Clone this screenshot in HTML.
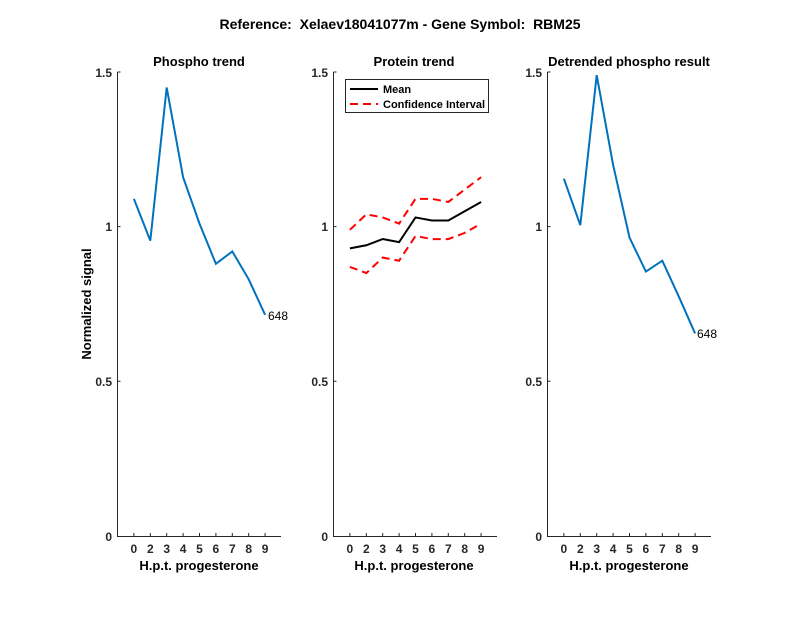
<!DOCTYPE html>
<html><head><style>body{margin:0;background:#fff}svg{display:block}text{font-family:"Liberation Sans",Arial,sans-serif}</style></head>
<body>
<svg width="800" height="618" viewBox="0 0 800 618" xmlns="http://www.w3.org/2000/svg">
<text x="400" y="29" font-size="14" font-weight="bold" text-anchor="middle" xml:space="preserve">Reference:  Xelaev18041077m - Gene Symbol:  RBM25</text>
<g font-size="13" font-weight="bold" text-anchor="middle">
<text x="199" y="66">Phospho trend</text>
<text x="414" y="66">Protein trend</text>
<text x="629" y="66">Detrended phospho result</text>
<text x="199" y="570">H.p.t. progesterone</text>
<text x="414" y="570">H.p.t. progesterone</text>
<text x="629" y="570">H.p.t. progesterone</text>
<text transform="translate(91,304) rotate(-90)">Normalized signal</text>
</g>
<g stroke="#262626" stroke-width="1" fill="none">
<path d="M117.5,72V536.5H281M117.5,226.6h3M117.5,381.3h3M117.5,72h3"/>
<path d="M333.5,72V536.5H497M333.5,226.6h3M333.5,381.3h3M333.5,72h3"/>
<path d="M547.5,72V536.5H711M547.5,226.6h3M547.5,381.3h3M547.5,72h3"/>
</g>
<g stroke="#262626" stroke-width="1">
<path d="M133.9,536v-3M150.3,536v-3M166.7,536v-3M183.1,536v-3M199.5,536v-3M215.9,536v-3M232.3,536v-3M248.7,536v-3M265.1,536v-3"/>
<path d="M349.9,536v-3M366.3,536v-3M382.7,536v-3M399.1,536v-3M415.5,536v-3M431.9,536v-3M448.3,536v-3M464.7,536v-3M481.1,536v-3"/>
<path d="M563.9,536v-3M580.3,536v-3M596.7,536v-3M613.1,536v-3M629.5,536v-3M645.9,536v-3M662.3,536v-3M678.7,536v-3M695.1,536v-3"/>
</g>
<g font-size="12" font-weight="bold" fill="#262626" text-anchor="end">
<text x="112" y="77">1.5</text><text x="112" y="231">1</text><text x="112" y="386">0.5</text><text x="112" y="541">0</text>
<text x="328" y="77">1.5</text><text x="328" y="231">1</text><text x="328" y="386">0.5</text><text x="328" y="541">0</text>
<text x="542" y="77">1.5</text><text x="542" y="231">1</text><text x="542" y="386">0.5</text><text x="542" y="541">0</text>
</g>
<g font-size="12" font-weight="bold" fill="#262626" text-anchor="middle">
<text x="133.9" y="553">0</text><text x="150.3" y="553">2</text><text x="166.7" y="553">3</text><text x="183.1" y="553">4</text><text x="199.5" y="553">5</text><text x="215.9" y="553">6</text><text x="232.3" y="553">7</text><text x="248.7" y="553">8</text><text x="265.1" y="553">9</text>
<text x="349.9" y="553">0</text><text x="366.3" y="553">2</text><text x="382.7" y="553">3</text><text x="399.1" y="553">4</text><text x="415.5" y="553">5</text><text x="431.9" y="553">6</text><text x="448.3" y="553">7</text><text x="464.7" y="553">8</text><text x="481.1" y="553">9</text>
<text x="563.9" y="553">0</text><text x="580.3" y="553">2</text><text x="596.7" y="553">3</text><text x="613.1" y="553">4</text><text x="629.5" y="553">5</text><text x="645.9" y="553">6</text><text x="662.3" y="553">7</text><text x="678.7" y="553">8</text><text x="695.1" y="553">9</text>
</g>
<g transform="translate(117.5,536) scale(16.4,-309.3)" fill="none">
<polyline vector-effect="non-scaling-stroke" stroke="#0072BD" stroke-width="2" points="1,1.09 2,0.955 3,1.45 4,1.16 5,1.01 6,0.88 7,0.92 8,0.83 9,0.715"/>
</g>
<g transform="translate(333.5,536) scale(16.4,-309.3)" fill="none">
<polyline vector-effect="non-scaling-stroke" stroke="#f00" stroke-width="2" stroke-dasharray="8,5" points="1,0.99 2,1.04 3,1.03 4,1.01 5,1.09 6,1.09 7,1.08 8,1.12 9,1.16"/>
<polyline vector-effect="non-scaling-stroke" stroke="#f00" stroke-width="2" stroke-dasharray="8,5" points="1,0.87 2,0.85 3,0.90 4,0.89 5,0.97 6,0.96 7,0.96 8,0.98 9,1.01"/>
<polyline vector-effect="non-scaling-stroke" stroke="#000" stroke-width="2" points="1,0.93 2,0.94 3,0.96 4,0.95 5,1.03 6,1.02 7,1.02 8,1.05 9,1.08"/>
</g>
<text x="268" y="320" font-size="12">648</text>
<text x="697" y="338" font-size="12">648</text>
<rect x="345.5" y="79.5" width="143" height="33" fill="#fff" stroke="#262626"/>
<line x1="350" y1="89" x2="378" y2="89" stroke="#000" stroke-width="2"/>
<line x1="350" y1="104" x2="378" y2="104" stroke="#f00" stroke-width="2" stroke-dasharray="8,5"/>
<g font-size="11" font-weight="bold"><text x="383" y="93">Mean</text><text x="383" y="108">Confidence Interval</text></g>
<g transform="translate(547.5,536) scale(16.4,-309.3)" fill="none">
<polyline vector-effect="non-scaling-stroke" stroke="#0072BD" stroke-width="2" points="1,1.155 2,1.005 3,1.49 4,1.2 5,0.965 6,0.855 7,0.89 8,0.775 9,0.655"/>
</g>
</svg>
</body></html>
